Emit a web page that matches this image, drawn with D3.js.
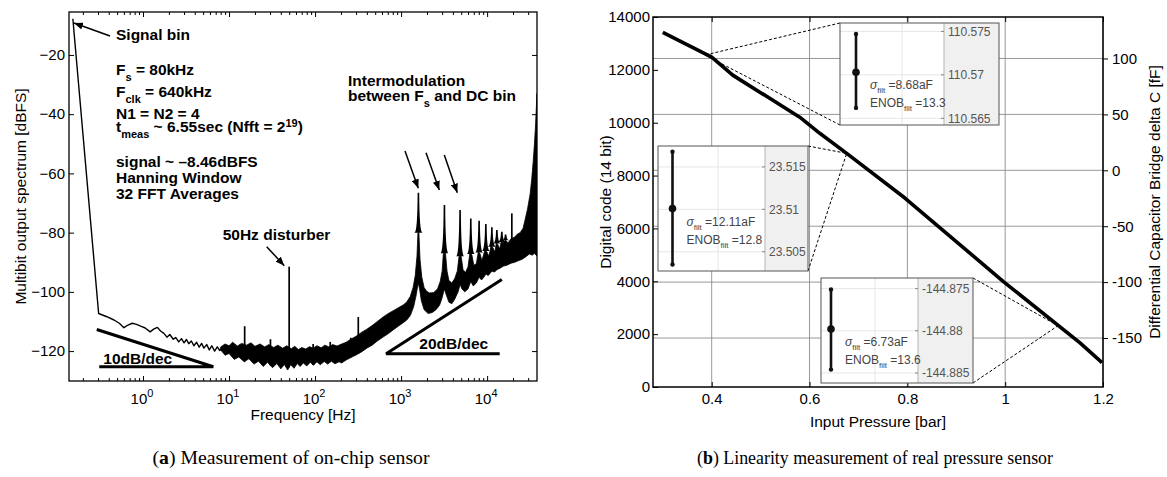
<!DOCTYPE html>
<html>
<head>
<meta charset="utf-8">
<script src="https://cdn.jsdelivr.net/npm/d3@7"></script>
<style>
  body { margin: 0; background: #fff; }
  #wrapper svg { display: block; font-family: "Liberation Sans", Arial, Helvetica, sans-serif; }
  text { white-space: pre; }
</style>
</head>
<body>
<div id="wrapper"></div>
<script>
// ---------- (a) spectrum, values ----------
// thin trace below ~8 Hz  [frequency Hz, dBFS]
const specLowTrace = [
  [0.153, -7.8], [0.305, -107.3], [0.38, -108.4], [0.46, -109.5], [0.53, -110.6], [0.60, -112.1],
  [0.67, -111.2], [0.75, -110.6], [0.84, -111], [0.94, -111.6], [1.06, -112.2], [1.21, -113.5],
  [1.33, -112.6], [1.47, -112], [1.6, -113.2], [1.75, -114], [1.9, -115.3], [2.05, -114.4],
  [2.25, -116], [2.4, -115.4], [2.6, -116.9], [2.8, -115.8], [3.0, -117.2], [3.2, -116.1],
  [3.4, -117.5], [3.65, -116.6], [3.9, -118.2], [4.2, -117], [4.5, -118.7], [4.8, -117.4],
  [5.1, -119], [5.5, -117.8], [5.9, -119.6], [6.3, -118.2], [6.8, -120], [7.3, -118.6],
  [7.8, -119.8], [8.2, -119]
]
// noise band above ~8 Hz: upper and lower edge
const specBandUpper = [
  [8, -118.6], [9, -117.6], [10, -118.2], [11, -117], [12.5, -118.3], [14, -117.4], [16, -118],
  [18, -117.2], [20, -118.4], [23, -117.6], [26, -118.6], [29, -117.8], [33, -118.8], [37, -118],
  [42, -119], [47, -118.2], [53, -119.2], [58, -118.4], [64, -119.5], [70, -118.8], [78, -119.3],
  [86, -118.5], [95, -119], [105, -118.2], [118, -118.9], [130, -118], [145, -118.6], [160, -117.8],
  [180, -118.3], [204, -117.6], [230, -117], [260, -116], [300, -115], [350, -113.6], [400, -112.6],
  [460, -111.4], [530, -110], [623, -108.4], [720, -107.2], [830, -106.2], [950, -105.2],
  [1060, -104.4], [1165, -103.4], [1280, -101.5], [1380, -98.5], [1460, -94.5], [1530, -88],
  [1570, -80], [1610, -80], [1660, -89], [1740, -95], [1850, -98.5], [1980, -99.8], [2150, -100.4],
  [2400, -100.2], [2650, -99], [2850, -96.5], [3000, -93], [3100, -87], [3280, -87], [3420, -93],
  [3600, -96.2], [3890, -97], [4200, -95.5], [4500, -93], [4720, -88], [4990, -88], [5250, -92.5],
  [5600, -93.5], [6000, -91.5], [6300, -87], [6650, -87.5], [7000, -91], [7500, -90.5], [7900, -86.5],
  [8250, -87], [8700, -89.5], [9400, -86], [9950, -86.5], [10500, -88], [11100, -84.5], [11650, -85],
  [12300, -86.5], [12800, -83.5], [13300, -84], [14000, -85.5], [14600, -83], [15300, -83.5],
  [16300, -82.5], [17500, -83.5], [19000, -82], [21000, -81.5], [22500, -80.5], [24200, -80],
  [26200, -78.5], [27700, -75.5], [29500, -72], [31600, -67], [33000, -62], [34300, -56],
  [35500, -50], [36500, -44], [37300, -38], [38000, -33]
]
const specBandLower = [
  [8, -119.6], [9, -121.4], [10, -120.8], [11.5, -122.8], [13, -122], [15, -123.6], [17, -122.6],
  [19.5, -124.4], [22, -123.4], [25, -125.2], [28, -123.8], [32, -125.6], [36, -124.2], [40, -126],
  [44, -124.5], [48, -126.4], [52, -124.6], [57, -125.8], [62, -124.2], [67, -125.2], [73, -124],
  [80, -125], [88, -123.8], [96, -124.8], [105, -123.6], [115, -124.6], [128, -123.5], [140, -124.4],
  [155, -123.4], [170, -124.3], [190, -123.6], [204, -124], [230, -123], [260, -122.2], [300, -121.3],
  [350, -120.2], [400, -119], [460, -118], [530, -116.6], [623, -115.2], [720, -114], [830, -112.6],
  [950, -111.4], [1060, -110.4], [1165, -109.5], [1280, -108], [1400, -105], [1500, -101],
  [1580, -97], [1640, -99], [1720, -103], [1850, -106], [2061, -107.3], [2300, -107], [2550, -106],
  [2800, -104.5], [3000, -102], [3180, -99], [3350, -101], [3600, -103.5], [3890, -104],
  [4200, -102.5], [4600, -100], [4850, -97.5], [5100, -99], [5500, -100], [6000, -99], [6460, -96.5],
  [6900, -98], [7500, -97], [8070, -95], [8600, -96], [9200, -95], [9660, -94], [10300, -94.5],
  [11350, -93], [12200, -93.3], [13000, -92.5], [14160, -92], [15500, -91.3], [17000, -91],
  [19000, -90.3], [21000, -90], [23000, -89.5], [25500, -89], [28000, -88.2], [31000, -87.2],
  [33500, -87.6], [35500, -87], [37000, -87.6], [38000, -87.8]
]
const intermodPeaks = [
  [1590, -66.5], [3190, -70.7], [4850, -72.4], [6460, -75.2], [8070, -76], [9660, -77.1],
  [11350, -78.2], [12980, -79.1], [14820, -79.7], [16400, -80.6]
]
const spurPeaks = [
  [15.2, -111.6], [30.3, -116], [50, -91.5], [95, -117.6], [150, -116.9], [260, -115.5],
  [318, -108.5], [19370, -73.5]
]
const specYTicks = [-120, -100, -80, -60, -40, -20]
const specXTicks = [1, 10, 100, 1000, 10000]
const specXTickExp = ["0", "1", "2", "3", "4"]
const slope10 = [[0.29, -112.7], [6.57, -125.3], [0.31, -125.3]]
const slope20 = [[14000, -120.9], [670, -120.9], [14830, -95.8]]

// ---------- (b) linearity ----------
const pressure = [0.30, 0.40, 0.443, 0.58, 0.621, 0.676, 0.795, 0.997, 1.153, 1.198]
const digitalCode = [13420, 12480, 11800, 10210, 9600, 8840, 7150, 3980, 1670, 920]
const pressureTicks = [0.4, 0.6, 0.8, 1, 1.2]
const codeTicks = [0, 2000, 4000, 6000, 8000, 10000, 12000, 14000]
const capTicks = [-150, -100, -50, 0, 50, 100]

// zoomed insets: tick labels, error bar [low, mean, high], text, point on curve
const insetTicks = [[110.575, 110.57, 110.565], [23.515, 23.51, 23.505], [-144.875, -144.88, -144.885]]
const insetTickLabels = [["110.575", "110.57", "110.565"], ["23.515", "23.51", "23.505"], ["-144.875", "-144.88", "-144.885"]]
const insetBars = [[110.5662, 110.5703, 110.5747], [23.5035, 23.5101, 23.5168], [-144.8846, -144.8798, -144.8751]]
const insetSigma = ["8.68aF", "12.11aF", "6.73aF"]
const insetEnob = ["13.3", "12.8", "13.6"]
const insetAnchors = [[0.386, 12560], [0.676, 8840], [1.108, 2320]]

const captionA = ["a", " Measurement of on-chip sensor"]
const captionB = ["b", " Linearity measurement of real pressure sensor"]

// text with sub/superscripts: parts = [text, kind, style]
function richText(parent, x, y, parts, opts) {
  const t = parent.append("text")
      .attr("x", x)
      .attr("y", y)
      .attr("fill", opts.fill || "#000")
      .style("font-size", opts.size + "px")
      .style("font-weight", opts.weight || "normal")
  let shift = 0
  parts.forEach(p => {
    const kind = p[1] || "n"
    const target = kind === "sub" ? opts.subShift : kind === "sup" ? -opts.supShift : 0
    const ts = t.append("tspan").attr("dy", target - shift).text(p[0])
    if (kind !== "n") ts.style("font-size", opts.small + "px")
    if (p[2]) ts.style("font-style", p[2])
    shift = target
  })
  return t
}

function styleAxis(a, size) {
  a.attr("font-family", null).attr("font-size", size)
  a.select(".domain").remove()
  a.selectAll(".tick line").attr("stroke", "#000")
}

function drawSpectrum(svg) {
  const dims = { left: 69, top: 12, width: 468, height: 369 }
  const g = svg.append("g").attr("transform", `translate(${dims.left},${dims.top})`)

  const x = d3.scaleLog().domain([0.138, 38000]).range([0, dims.width])
  const y = d3.scaleLinear().domain([-130.1, -5.5]).range([dims.height, 0])

  // piecewise edges of the band, used as the foot of the spikes
  const upperAt = d3.scaleLog().domain(specBandUpper.map(d => d[0])).range(specBandUpper.map(d => d[1])).clamp(true)
  const lowerAt = d3.scaleLog().domain(specBandLower.map(d => d[0])).range(specBandLower.map(d => d[1])).clamp(true)

  g.append("clipPath").attr("id", "specClip")
    .append("rect").attr("width", dims.width).attr("height", dims.height)
  const plot = g.append("g").attr("clip-path", "url(#specClip)")

  const line = d3.line().x(d => x(d[0])).y(d => y(d[1]))

  plot.append("path")
      .attr("d", line(specLowTrace))
      .attr("fill", "none")
      .attr("stroke", "#000")
      .attr("stroke-width", 1.4)
      .attr("stroke-linejoin", "round")

  plot.append("path")
      .attr("d", line(specBandUpper.concat(specBandLower.slice().reverse())) + "Z")
      .attr("fill", "#000")
      .attr("stroke", "#000")
      .attr("stroke-width", 0.8)

  plot.selectAll(".spur").data(spurPeaks).join("line")
      .attr("class", "spur")
      .attr("x1", d => x(d[0])).attr("x2", d => x(d[0]))
      .attr("y1", d => y(lowerAt(d[0])))
      .attr("y2", d => y(d[1]))
      .attr("stroke", "#000")
      .attr("stroke-width", 1.7)

  plot.selectAll(".peak").data(intermodPeaks).join("path")
      .attr("class", "peak")
      .attr("d", d => {
        const px = x(d[0]), yb = y(upperAt(d[0])), yt = y(d[1]), w = 4
        return `M${px - w},${yb}Q${px - 1},${yb} ${px - 0.8},${yt}L${px + 0.8},${yt}Q${px + 1},${yb} ${px + w},${yb}Z`
      })
      .attr("fill", "#000")

  // slope markers
  const slopes = [slope10, slope20]
  plot.selectAll(".slope").data(slopes).join("path")
      .attr("class", "slope")
      .attr("d", d => line(d))
      .attr("fill", "none")
      .attr("stroke", "#000")
      .attr("stroke-width", 3)
      .attr("stroke-linejoin", "bevel")

  // axes (matlab style, ticks inside)
  g.append("g")
      .call(d3.axisLeft(y).tickValues(specYTicks).tickSize(-5).tickPadding(4).tickFormat(d3.format("d")))
      .call(a => styleAxis(a, 15))
  g.append("g")
      .attr("transform", `translate(${dims.width},0)`)
      .call(d3.axisRight(y).tickValues(specYTicks).tickSize(-5).tickFormat(""))
      .call(a => styleAxis(a, 15))

  const minor = x.ticks().filter(v => Math.abs(Math.log10(v) - Math.round(Math.log10(v))) > 1e-6)
  ;[[d3.axisBottom, dims.height], [d3.axisTop, 0]].forEach(([axis, ty]) => {
    g.append("g").attr("transform", `translate(0,${ty})`)
        .call(axis(x).tickValues(specXTicks).tickSize(-5).tickFormat(""))
        .call(a => styleAxis(a, 15))
    g.append("g").attr("transform", `translate(0,${ty})`)
        .call(axis(x).tickValues(minor).tickSize(-3).tickFormat(""))
        .call(a => styleAxis(a, 15))
  })

  specXTicks.forEach((v, i) => {
    const t = g.append("text")
        .attr("x", x(v) - 1)
        .attr("y", dims.height + 23)
        .attr("text-anchor", "middle")
        .style("font-size", "15px")
    t.append("tspan").text("10")
    t.append("tspan").attr("dy", -7).style("font-size", "11px").text(specXTickExp[i])
  })

  g.append("rect")
      .attr("width", dims.width)
      .attr("height", dims.height)
      .attr("fill", "none")
      .attr("stroke", "#000")
      .attr("stroke-width", 1.3)

  g.append("text")
      .attr("x", dims.width / 2)
      .attr("y", dims.height + 39)
      .attr("text-anchor", "middle")
      .style("font-size", "15.5px")
      .text("Frequency [Hz]")

  svg.append("text")
      .attr("transform", `translate(25.5,${dims.top + dims.height / 2}) rotate(-90)`)
      .attr("text-anchor", "middle")
      .style("font-size", "15.5px")
      .text("Multibit output spectrum [dBFS]")

  // annotations
  const arrows = [
    [110, 36, 74, 23],
    [266.7, 246.7, 284.3, 265.7],
    [405, 151, 418.3, 188.3],
    [426, 152.7, 439.3, 190],
    [444.3, 155, 457.3, 192.7]
  ]
  svg.selectAll(".arrow").data(arrows).join("line")
      .attr("class", "arrow")
      .attr("x1", d => d[0]).attr("y1", d => d[1])
      .attr("x2", d => d[2]).attr("y2", d => d[3])
      .attr("stroke", "#000")
      .attr("stroke-width", 1.5)
      .attr("marker-end", "url(#arrowHead)")

  const notes = [
    [116, 39.5, [["Signal bin"]]],
    [116, 75, [["F"], ["s", "sub"], [" = 80kHz"]]],
    [116, 96.5, [["F"], ["clk", "sub"], [" = 640kHz"]]],
    [116, 118.5, [["N1 = N2 = 4"]]],
    [116, 132, [["t"], ["meas", "sub"], [" ~ 6.55sec (Nfft = 2"], ["19", "sup"], [")"]]],
    [116, 166.5, [["signal ~ \u20138.46dBFS"]]],
    [116, 182.5, [["Hanning Window"]]],
    [116, 198.5, [["32 FFT Averages"]]],
    [348, 86, [["Intermodulation"]]],
    [348, 100.5, [["between F"], ["s", "sub"], [" and DC bin"]]],
    [222.7, 239.5, [["50Hz disturber"]]],
    [103.3, 364, [["10dB/dec"]]],
    [419.3, 349.3, [["20dB/dec"]]]
  ]
  notes.forEach(n => richText(svg, n[0], n[1], n[2],
    { size: 15.5, small: 11, weight: "bold", subShift: 6, supShift: 5 }))
}

function drawLinearity(svg) {
  const dims = { left: 653, top: 17, width: 450, height: 370 }
  const g = svg.append("g").attr("transform", `translate(${dims.left},${dims.top})`)

  const x = d3.scaleLinear().domain([0.28, 1.2]).range([0, dims.width])
  const y = d3.scaleLinear().domain([0, 14000]).range([dims.height, 0])
  const y2 = d3.scaleLinear().domain([-193.8, 137.1]).range([dims.height, 0])

  // grid
  g.selectAll(".vgrid").data(pressureTicks).join("line")
      .attr("class", "vgrid")
      .attr("x1", d => x(d)).attr("x2", d => x(d))
      .attr("y1", 0).attr("y2", dims.height)
      .attr("stroke", "#8c8c8c")
      .attr("stroke-width", 0.9)
  g.selectAll(".hgrid").data(capTicks).join("line")
      .attr("class", "hgrid")
      .attr("x1", 0).attr("x2", dims.width)
      .attr("y1", d => y2(d)).attr("y2", d => y2(d))
      .attr("stroke", "#8c8c8c")
      .attr("stroke-width", 0.9)

  const data = pressure.map((p, i) => [p, digitalCode[i]])
  g.append("path")
      .attr("d", d3.line().x(d => x(d[0])).y(d => y(d[1]))(data))
      .attr("fill", "none")
      .attr("stroke", "#000")
      .attr("stroke-width", 3.6)
      .attr("stroke-linejoin", "round")

  // axes
  g.append("g")
      .call(d3.axisLeft(y).tickValues(codeTicks).tickSize(-5).tickPadding(3).tickFormat(d3.format("d")))
      .call(a => styleAxis(a, 15))
  g.append("g")
      .attr("transform", `translate(0,${dims.height})`)
      .call(d3.axisBottom(x).tickValues(pressureTicks).tickSize(-5).tickPadding(6).tickFormat(d => String(d)))
      .call(a => styleAxis(a, 15))
  g.append("g")
      .call(d3.axisTop(x).tickValues(pressureTicks).tickSize(-5).tickFormat(""))
      .call(a => styleAxis(a, 15))
  g.append("g")
      .attr("transform", `translate(${dims.width},0)`)
      .call(d3.axisRight(y2).tickValues(capTicks).tickSize(5).tickPadding(4).tickFormat(d => String(d)))
      .call(a => styleAxis(a, 15))

  g.append("rect")
      .attr("width", dims.width)
      .attr("height", dims.height)
      .attr("fill", "none")
      .attr("stroke", "#000")
      .attr("stroke-width", 1.5)

  g.append("text")
      .attr("x", dims.width / 2)
      .attr("y", dims.height + 40)
      .attr("text-anchor", "middle")
      .style("font-size", "15.5px")
      .text("Input Pressure [bar]")
  svg.append("text")
      .attr("transform", `translate(611,${dims.top + dims.height / 2}) rotate(-90)`)
      .attr("text-anchor", "middle")
      .style("font-size", "15.5px")
      .text("Digital code (14 bit)")
  svg.append("text")
      .attr("transform", `translate(1160,${dims.top + dims.height / 2}) rotate(-90)`)
      .attr("text-anchor", "middle")
      .style("font-size", "15.5px")
      .text("Differential Capacitor Bridge delta C [fF]")

  // zoomed insets (page positions)
  const insetBoxes = [
    { x: 840, y: 23, w: 159, h: 102, split: 104, barX: 16, gridX: 62, domain: [110.56423, 110.57597], side: "left" },
    { x: 658, y: 146, w: 150, h: 125, split: 107, barX: 14.5, gridX: 60, domain: [23.50273, 23.51747], side: "right" },
    { x: 821, y: 278, w: 152, h: 105, split: 97, barX: 10, gridX: 54, domain: [-144.88619, -144.87374], side: "right" }
  ]

  // dashed connectors from inset corners to the curve
  insetBoxes.forEach((b, i) => {
    const ax = dims.left + x(insetAnchors[i][0])
    const ay = dims.top + y(insetAnchors[i][1])
    const cx = b.side === "left" ? b.x : b.x + b.w
    ;[b.y, b.y + b.h].forEach(cy => {
      svg.append("line")
          .attr("x1", cx).attr("y1", cy)
          .attr("x2", ax).attr("y2", ay)
          .attr("stroke", "#000")
          .attr("stroke-width", 1)
          .attr("stroke-dasharray", "3,2")
    })
  })

  insetBoxes.forEach((b, i) => {
    const ig = svg.append("g").attr("transform", `translate(${b.x},${b.y})`)
    const yi = d3.scaleLinear().domain(b.domain).range([b.h, 0])
    ig.append("rect").attr("width", b.w).attr("height", b.h).attr("fill", "#fff")
    ig.append("rect").attr("x", b.split).attr("width", b.w - b.split).attr("height", b.h).attr("fill", "#f0f0f0")
    ig.selectAll(".ig").data(insetTicks[i]).join("line")
        .attr("x1", 0).attr("x2", b.split)
        .attr("y1", d => yi(d)).attr("y2", d => yi(d))
        .attr("stroke", "#e6e6e6")
    ig.append("line")
        .attr("x1", b.gridX).attr("x2", b.gridX)
        .attr("y1", 0).attr("y2", b.h)
        .attr("stroke", "#e6e6e6")
    ig.append("line")
        .attr("x1", b.split).attr("x2", b.split)
        .attr("y1", 0).attr("y2", b.h)
        .attr("stroke", "#b5b5b5")
    ig.selectAll(".itick").data(insetTicks[i]).join("line")
        .attr("x1", b.split - 3).attr("x2", b.split)
        .attr("y1", d => yi(d)).attr("y2", d => yi(d))
        .attr("stroke", "#888")
    ig.selectAll(".ilab").data(insetTicks[i]).join("text")
        .attr("x", b.split + 4)
        .attr("y", d => yi(d))
        .attr("dy", "0.35em")
        .attr("fill", "#555")
        .style("font-size", "12px")
        .text((d, k) => insetTickLabels[i][k])

    const [lo, mid, hi] = insetBars[i]
    ig.append("line")
        .attr("x1", b.barX).attr("x2", b.barX)
        .attr("y1", yi(lo)).attr("y2", yi(hi))
        .attr("stroke", "#111")
        .attr("stroke-width", 2.6)
    ig.selectAll(".cap").data([lo, hi]).join("circle")
        .attr("cx", b.barX).attr("cy", d => yi(d)).attr("r", 2.2)
        .attr("fill", "#111")
    ig.append("circle")
        .attr("cx", b.barX).attr("cy", yi(mid)).attr("r", 3.8)
        .attr("fill", "#111")

    const tOpts = { size: 12, small: 8, fill: "#444", subShift: 4, supShift: 4 }
    richText(ig, b.barX + 14, yi(mid) + 17, [["\u03c3", "n", "italic"], ["filt", "sub"], [" =" + insetSigma[i]]], tOpts)
    richText(ig, b.barX + 14, yi(mid) + 35, [["ENOB"], ["filt", "sub"], [" =" + insetEnob[i]]], tOpts)

    ig.append("rect")
        .attr("width", b.w).attr("height", b.h)
        .attr("fill", "none")
        .attr("stroke", "#555")
        .attr("stroke-width", 1)
  })
}

function drawChart() {
  const dimensions = { width: 1167, height: 477 }
  const svg = d3.select("#wrapper").append("svg")
      .attr("width", dimensions.width)
      .attr("height", dimensions.height)
  svg.append("rect").attr("width", dimensions.width).attr("height", dimensions.height).attr("fill", "#fff")

  svg.append("defs").append("marker")
      .attr("id", "arrowHead")
      .attr("viewBox", "0 0 10 8")
      .attr("refX", 10).attr("refY", 4)
      .attr("markerWidth", 9).attr("markerHeight", 7.2)
      .attr("markerUnits", "userSpaceOnUse")
      .attr("orient", "auto")
    .append("path").attr("d", "M0,0L10,4L0,8Z").attr("fill", "#000")

  drawSpectrum(svg)
  drawLinearity(svg)

  // captions, stretched to the widths seen in the reference
  ;[[291, 277, captionA], [875, 356, captionB]].forEach(([cx, len, cap]) => {
    const t = svg.append("text")
        .attr("x", cx).attr("y", 464)
        .attr("text-anchor", "middle")
        .attr("textLength", len)
        .attr("lengthAdjust", "spacingAndGlyphs")
        .style("font-family", "'Liberation Serif', 'Times New Roman', serif")
        .style("font-size", "19px")
    t.append("tspan").text("(")
    t.append("tspan").style("font-weight", "bold").text(cap[0])
    t.append("tspan").text(")" + cap[1])
  })
}
drawChart()
</script>
</body>
</html>
